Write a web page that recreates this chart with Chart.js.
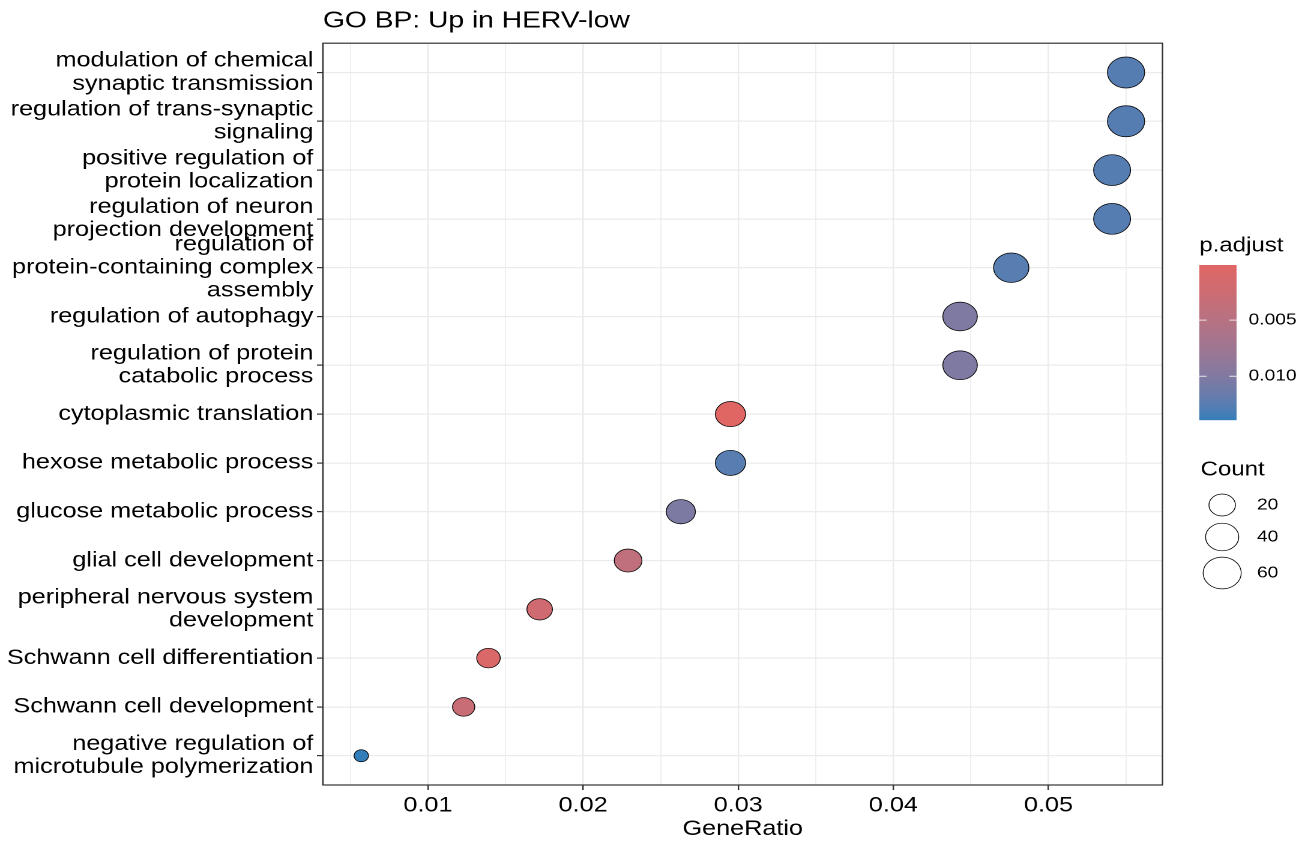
<!DOCTYPE html>
<html>
<head>
<meta charset="utf-8">
<script src="https://cdn.jsdelivr.net/npm/chart.js@4.4.1/dist/chart.umd.min.js"></script>
<style>
  html, body { margin: 0; padding: 0; background: #fff; overflow: hidden; }
  /* the reference is stretched 1.2x horizontally, so draw narrow and stretch */
  #wrap { width: 1091.67px; height: 845px; transform: scaleX(1.2); transform-origin: 0 0; }
</style>
</head>
<body>
<div id="wrap"><canvas id="dotChart"></canvas></div>
<script>
// GO terms, top to bottom
const categories = [
  'modulation of chemical\nsynaptic transmission',
  'regulation of trans-synaptic\nsignaling',
  'positive regulation of\nprotein localization',
  'regulation of neuron\nprojection development',
  'regulation of\nprotein-containing complex\nassembly',
  'regulation of autophagy',
  'regulation of protein\ncatabolic process',
  'cytoplasmic translation',
  'hexose metabolic process',
  'glucose metabolic process',
  'glial cell development',
  'peripheral nervous system\ndevelopment',
  'Schwann cell differentiation',
  'Schwann cell development',
  'negative regulation of\nmicrotubule polymerization'
];
const geneRatio = [0.0550, 0.0550, 0.0541, 0.0541, 0.0476, 0.0443, 0.0443, 0.0295, 0.0295, 0.0263, 0.0229, 0.0172, 0.0139, 0.0123, 0.0057];
const geneCount = [56, 56, 55, 55, 48, 45, 45, 30, 30, 27, 23, 18, 14, 12, 6];
const pAdjust   = [0.0126, 0.0126, 0.0126, 0.0126, 0.0125, 0.0101, 0.0101, 0.00009, 0.0125, 0.0103, 0.0040, 0.0022, 0.0009, 0.0030, 0.0139];

const xTicks = [0.005, 0.01, 0.015, 0.02, 0.025, 0.03, 0.035, 0.04, 0.045, 0.05, 0.055];
const colorbarTicks = [0.005, 0.010];
const countBreaks = [20, 40, 60];

const FONT = "'Liberation Sans', Arial, sans-serif";
const LOW_COL = '#e06663', HIGH_COL = '#327eba';

// --- colour scale (Lab interpolation like ggplot) ---
function toLin(c) { c /= 255; return c <= 0.04045 ? c / 12.92 : Math.pow((c + 0.055) / 1.055, 2.4); }
function toSrgb(c) { c = c <= 0.0031308 ? 12.92 * c : 1.055 * Math.pow(c, 1 / 2.4) - 0.055; return Math.round(Math.max(0, Math.min(1, c)) * 255); }
const WP = [0.95047, 1, 1.08883];
function fLab(t) { return t > 216 / 24389 ? Math.cbrt(t) : (24389 / 27 * t + 16) / 116; }
function fInv(t) { return t * t * t > 216 / 24389 ? t * t * t : (116 * t - 16) / (24389 / 27); }
function toLab(hex) {
  const [r, g, b] = [1, 3, 5].map(i => toLin(parseInt(hex.substr(i, 2), 16)));
  const x = (0.4124 * r + 0.3576 * g + 0.1805 * b) / WP[0];
  const y = (0.2126 * r + 0.7152 * g + 0.0722 * b) / WP[1];
  const z = (0.0193 * r + 0.1192 * g + 0.9505 * b) / WP[2];
  return [116 * fLab(y) - 16, 500 * (fLab(x) - fLab(y)), 200 * (fLab(y) - fLab(z))];
}
function fromLab(L, a, bb) {
  const fy = (L + 16) / 116, fx = fy + a / 500, fz = fy - bb / 200;
  const x = fInv(fx) * WP[0], y = fInv(fy) * WP[1], z = fInv(fz) * WP[2];
  const r = 3.2406 * x - 1.5372 * y - 0.4986 * z;
  const g = -0.9689 * x + 1.8758 * y + 0.0415 * z;
  const b = 0.0557 * x - 0.2040 * y + 1.0570 * z;
  return 'rgb(' + toSrgb(r) + ',' + toSrgb(g) + ',' + toSrgb(b) + ')';
}
const labLow = toLab(LOW_COL), labHigh = toLab(HIGH_COL);
const pMin = Math.min(...pAdjust), pMax = Math.max(...pAdjust);
function pColor(p) {
  const t = Math.max(0, Math.min(1, (p - pMin) / (pMax - pMin)));
  return fromLab(labLow[0] + t * (labHigh[0] - labLow[0]), labLow[1] + t * (labHigh[1] - labLow[1]), labLow[2] + t * (labHigh[2] - labLow[2]));
}

// --- size scale (area scale like scale_size) ---
const R_MIN = 6, R_MAX = 15.5;
const cMin = Math.min(...geneCount), cMax = Math.max(...geneCount);
function sizeR(c) { return R_MIN + Math.sqrt(Math.max(0, (c - cMin) / (cMax - cMin))) * (R_MAX - R_MIN); }

const isMajor = v => Math.round(v * 1000) % 10 === 0;

const points = geneRatio.map((g, i) => ({ x: g, y: i, r: sizeR(geneCount[i]) }));

// border + legends on the right
const extrasPlugin = {
  id: 'extras',
  afterDatasetsDraw(chart) {
    const { ctx, chartArea: a } = chart;
    ctx.save();
    ctx.strokeStyle = '#333';
    ctx.lineWidth = 1.2;
    ctx.strokeRect(a.left, a.top, a.right - a.left, a.bottom - a.top);
    ctx.restore();
  },
  afterDraw(chart) {
    const ctx = chart.ctx;
    ctx.save();
    ctx.fillStyle = '#000';
    ctx.textBaseline = 'middle';
    ctx.textAlign = 'left';

    // p.adjust colourbar
    ctx.font = '20px ' + FONT;
    ctx.fillText('p.adjust', 999, 246);
    const bx = 999, bw = 31, top = 265, bot = 420;
    for (let y = top; y < bot; y++) {
      const p = pMin + (y + 0.5 - top) / (bot - top) * (pMax - pMin);
      ctx.fillStyle = pColor(p);
      ctx.fillRect(bx, y, bw, 1.2);
    }
    ctx.font = '16px ' + FONT;
    colorbarTicks.forEach(v => {
      const y = top + (v - pMin) / (pMax - pMin) * (bot - top);
      ctx.strokeStyle = 'rgba(255,255,255,0.8)';
      ctx.lineWidth = 1;
      ctx.beginPath();
      ctx.moveTo(bx, y); ctx.lineTo(bx + 6, y);
      ctx.moveTo(bx + bw - 6, y); ctx.lineTo(bx + bw, y);
      ctx.stroke();
      ctx.fillStyle = '#000';
      ctx.fillText(v.toFixed(3), 1040, y);
    });

    // Count size legend
    ctx.font = '20px ' + FONT;
    ctx.fillText('Count', 1000, 470);
    const ys = [505, 537, 573];
    ctx.font = '16px ' + FONT;
    countBreaks.forEach((c, i) => {
      ctx.beginPath();
      ctx.arc(1018, ys[i], sizeR(c), 0, Math.PI * 2);
      ctx.fillStyle = '#fff';
      ctx.fill();
      ctx.strokeStyle = '#000';
      ctx.lineWidth = 0.7;
      ctx.stroke();
      ctx.fillStyle = '#000';
      ctx.fillText(String(c), 1047, ys[i]);
    });
    ctx.restore();
  }
};

new Chart(document.getElementById('dotChart').getContext('2d'), {
  type: 'bubble',
  data: {
    datasets: [{
      data: points,
      backgroundColor: pAdjust.map(pColor),
      borderColor: '#000',
      borderWidth: 0.7
    }]
  },
  options: {
    responsive: true,
    maintainAspectRatio: false,
    animation: false,
    events: [],
    devicePixelRatio: 2,
    layout: { padding: { top: 3, right: 123.4, bottom: 0, left: 0 } },
    plugins: {
      legend: { display: false },
      tooltip: { enabled: false },
      title: {
        display: true,
        text: 'GO BP: Up in HERV-low',
        align: 'start',
        fullSize: false,
        color: '#000',
        font: { family: FONT, size: 23.5, weight: 'normal' },
        padding: { top: 4, bottom: 8 }
      }
    },
    scales: {
      x: {
        type: 'linear',
        min: 0.00323,
        max: 0.05735,
        afterBuildTicks: s => { s.ticks = xTicks.map(v => ({ value: v })); },
        afterFit: s => { s.height = 60; },
        ticks: {
          autoSkip: false,
          maxRotation: 0,
          padding: 3,
          color: '#000',
          font: { family: FONT, size: 21 },
          callback: v => isMajor(v) ? v.toFixed(2) : ''
        },
        grid: {
          color: '#ebebeb',
          lineWidth: c => (c.tick && isMajor(c.tick.value)) ? 1.2 : 0.8,
          tickColor: c => (c.tick && isMajor(c.tick.value)) ? '#333' : 'rgba(0,0,0,0)',
          tickLength: 5,
          tickWidth: 1.2
        },
        border: { display: false },
        title: {
          display: true,
          text: 'GeneRatio',
          color: '#000',
          font: { family: FONT, size: 21 },
          padding: { top: 0, bottom: 3 }
        }
      },
      y: {
        type: 'linear',
        min: -0.6,
        max: categories.length - 0.4,
        reverse: true,
        afterBuildTicks: s => { s.ticks = categories.map((_, i) => ({ value: i })); },
        afterFit: s => { s.width = 269; },
        ticks: {
          autoSkip: false,
          padding: 3,
          color: '#000',
          font: { family: FONT, size: 21, lineHeight: 1.1 },
          callback: v => categories[v].split('\n')
        },
        grid: {
          color: '#ebebeb',
          lineWidth: 1.2,
          tickColor: '#333',
          tickLength: 5,
          tickWidth: 1.2
        },
        border: { display: false }
      }
    }
  },
  plugins: [extrasPlugin]
});
</script>
</body>
</html>
